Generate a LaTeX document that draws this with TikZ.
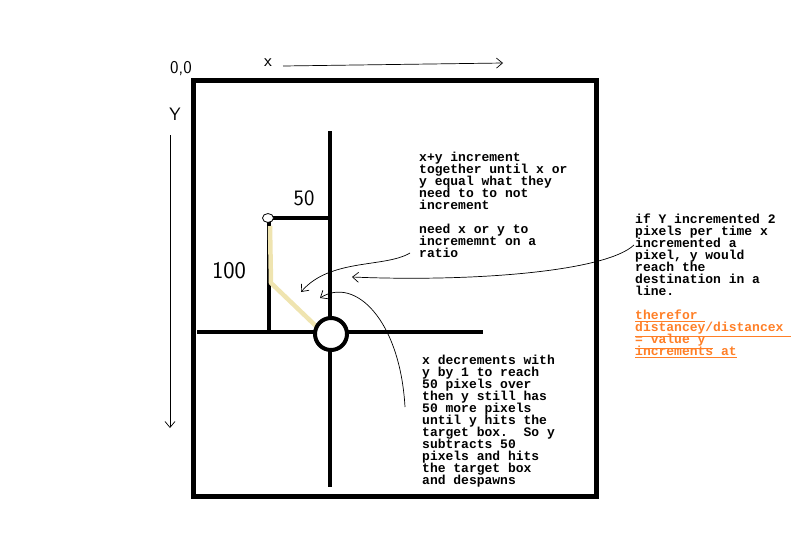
\documentclass[tikz,border=0pt]{standalone}
\usepackage{fontspec}
\setmonofont{Liberation Mono}
\usetikzlibrary{arrows.meta,shapes.geometric}

\definecolor{paintorange}{RGB}{255,127,39}
\definecolor{painttan}{RGB}{239,228,176}
\newcommand{\notefont}{\ttfamily\bfseries\fontsize{13}{12}\selectfont\lineskiplimit=-8pt\relax}

\tikzset{
  note/.style={font=\notefont, anchor=north west, inner sep=0pt, align=left},
  hand/.style={font=\sffamily\fontsize{18}{18}\selectfont, inner sep=0pt},
  wire/.style={line width=4pt},
  scribble/.style={line width=0.7pt, -{Straight Barb[length=6pt,width=10pt]}},
}

\begin{document}
\begin{tikzpicture}[x=1pt,y=-1pt]
        \useasboundingbox (0,0) rectangle (795,536);

        % Axes labels
        \node[hand] (origin) at (181,69) {0,0};
        \node[hand] (xlabel) at (268,63) {x};
        \node[hand] (ylabel) at (175,114) {Y};
        \coordinate (xstart) at (283,66);
        \coordinate (xend) at (503,63);
        \coordinate (ystart) at (170,135);
        \coordinate (yend) at (170,428);
        \draw[scribble] (xstart) -- (xend);
        \draw[scribble] (ystart) -- (yend);

        % Screen
        \draw[line width=5pt] (193,80) rectangle (596,496);

        % Cross through the target
        \draw[wire] (330,131) -- (330,487);
        \draw[wire] (197,332) -- (483,332);

        % Start box
        \draw[wire] (268,218) -- (330,218);
        \draw[wire] (269,218) -- (269,332);
        \node[hand, font=\sffamily\fontsize{22}{22}\selectfont] (fifty) at (304,198) {50};
        \node[hand, font=\sffamily\fontsize{24}{24}\selectfont] (hundred) at (229,271) {100};

        % Path taken
        \coordinate (corner) at (271,283);
        \draw[painttan, line width=4.5pt] (270,226) -- (corner) -- (318,328);
        \node[draw, fill=white, ellipse, line width=0.8pt, minimum width=11pt, minimum height=9pt, inner sep=0pt] (spawn) at (268,218) {};
        \node[circle, draw, fill=white, line width=4pt, minimum size=32pt, inner sep=0pt] (target) at (331,334) {};

        % Notes
        \node[note] (incnote) at (419,152) {x+y increment\\together until x or\\y equal what they\\need to to not\\increment\\[12pt]need x or y to\\incrememnt on a\\ratio};
        \node[note] (ratenote) at (635,214) {if Y incremented 2\\pixels per time x\\incremented a\\pixel, y would\\reach the\\destination in a\\line.};
        \node[note, text=paintorange] (formula) at (635,310) {\underline{therefor\ }\\\underline{distancey/distancex\ }\\\underline{= value y\ }\\\underline{increments at}};
        \node[note] (decnote) at (422,355) {x decrements with\\y by 1 to reach\\50 pixels over\\then y still has\\50 more pixels\\until y hits the\\target box.\ \ So y\\subtracts 50\\pixels and hits\\the target box\\and despawns};

        % Scribbled arrows
        \coordinate (ratiotail) at (410,253);
        \coordinate (ratiotip) at (301,292);
        \coordinate (ratetail) at (634,245);
        \coordinate (ratetip) at (352,277);
        \coordinate (dectail) at (405,407);
        \coordinate (dectip) at (320,298);
        \draw[scribble] (ratiotail) .. controls (385,268) and (330,258) .. (ratiotip);
        \draw[scribble] (ratetail) .. controls (605,272) and (470,282) .. (ratetip);
        \draw[scribble] (dectail) .. controls (400,320) and (355,276) .. (dectip);
\end{tikzpicture}
\end{document}
